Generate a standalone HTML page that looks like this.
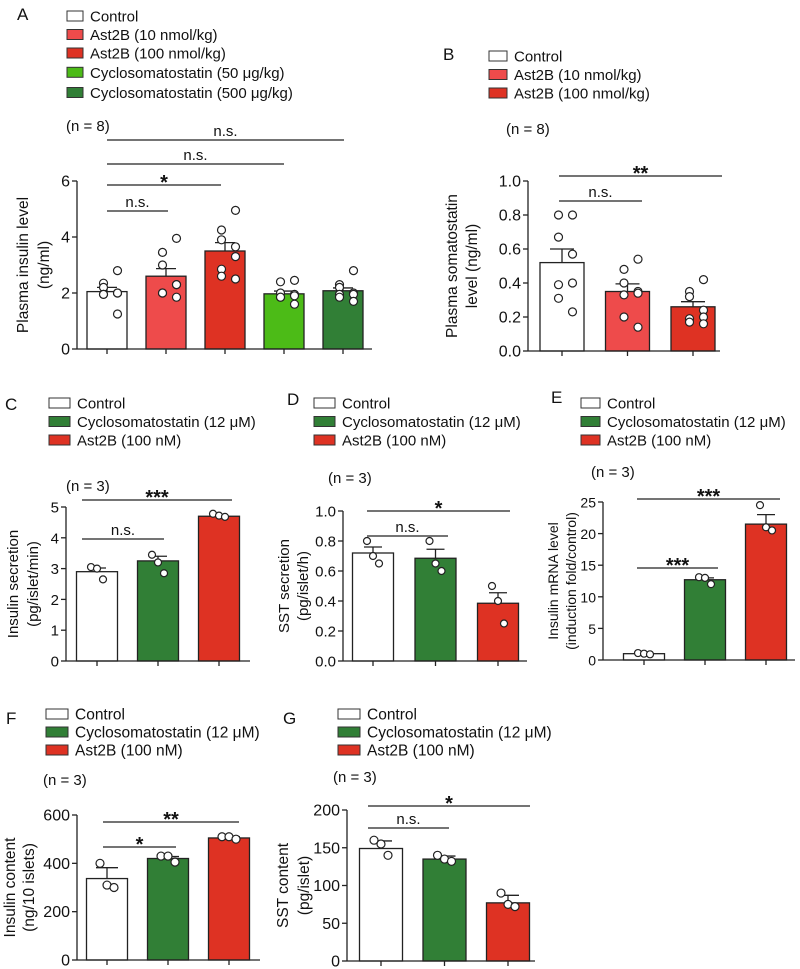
<!DOCTYPE html>
<html><head><meta charset="utf-8"><style>
html,body{margin:0;padding:0;background:#fff;}
svg{display:block;font-family:"Liberation Sans",Arial,sans-serif;}
</style></head><body>
<svg id="fig" width="800" height="969" viewBox="0 0 800 969">
<g id="static" fill="#111" font-size="15">
  <text x="17" y="20" font-size="17">A</text>
  <text x="443" y="60" font-size="17">B</text>
  <text x="5" y="410" font-size="17">C</text>
  <text x="287" y="405" font-size="17">D</text>
  <text x="551" y="403" font-size="17">E</text>
  <text x="6" y="724" font-size="17">F</text>
  <text x="283" y="724" font-size="17">G</text>
  <text x="66" y="131">(n = 8)</text>
  <text x="506" y="134">(n = 8)</text>
  <text x="66" y="491">(n = 3)</text>
  <text x="328" y="483">(n = 3)</text>
  <text x="591" y="477">(n = 3)</text>
  <text x="43" y="785">(n = 3)</text>
  <text x="333" y="782">(n = 3)</text>
</g>
<g id="dyn"></g>
</svg>
<script>
// ---------- DATA ----------
const aCategories = ["Control","Ast2B (10 nmol/kg)","Ast2B (100 nmol/kg)","Cyclosomatostatin (50 μg/kg)","Cyclosomatostatin (500 μg/kg)"];
const aMeans = [2.05, 2.6, 3.5, 1.97, 2.08];
const aErrors = [0.15, 0.27, 0.3, 0.1, 0.1];
const aPoints = [
  [2.8,2.35,2.2,2.0,2.0,1.95,1.95,1.25],
  [3.95,3.45,3.0,2.3,2.3,2.0,2.0,1.85],
  [4.95,4.25,3.9,3.65,3.3,2.85,2.6,2.5],
  [2.45,2.4,2.0,1.95,1.9,1.85,1.85,1.6],
  [2.8,2.3,2.2,2.0,1.95,1.95,1.85,1.7]];
const aTicks = [0,2,4,6];
const aTickLabels = ["0","2","4","6"];

const bCategories = ["Control","Ast2B (10 nmol/kg)","Ast2B (100 nmol/kg)"];
const bMeans = [0.52, 0.35, 0.26];
const bErrors = [0.08, 0.045, 0.03];
const bPoints = [
  [0.8,0.8,0.67,0.57,0.4,0.39,0.31,0.23],
  [0.54,0.48,0.4,0.35,0.34,0.33,0.2,0.14],
  [0.42,0.35,0.32,0.24,0.2,0.19,0.17,0.16]];
const bTicks = [0,0.2,0.4,0.6,0.8,1.0];
const bTickLabels = ["0.0","0.2","0.4","0.6","0.8","1.0"];

const inVitroCategories = ["Control","Cyclosomatostatin (12 μM)","Ast2B (100 nM)"];
const cMeans = [2.9, 3.25, 4.7];
const cErrors = [0.12, 0.15, 0.05];
const cPoints = [[3.05,3.0,2.65],[3.45,3.2,2.85],[4.78,4.72,4.68]];
const cTicks = [0,1,2,3,4,5];
const cTickLabels = ["0","1","2","3","4","5"];

const dMeans = [0.72, 0.685, 0.385];
const dErrors = [0.04, 0.06, 0.07];
const dPoints = [[0.8,0.7,0.65],[0.8,0.65,0.6],[0.5,0.4,0.25]];
const dTicks = [0,0.2,0.4,0.6,0.8,1.0];
const dTickLabels = ["0.0","0.2","0.4","0.6","0.8","1.0"];

const eMeans = [1.0, 12.7, 21.5];
const eErrors = [0.1, 0.3, 1.5];
const ePoints = [[1.1,1.0,0.9],[13.1,13.0,12.0],[24.5,21.0,20.5]];
const eTicks = [0,5,10,15,20,25];
const eTickLabels = ["0","5","10","15","20","25"];

const fMeans = [337, 420, 505];
const fErrors = [45, 8, 5];
const fPoints = [[400,310,300],[430,430,405],[510,510,500]];
const fTicks = [0,200,400,600];
const fTickLabels = ["0","200","400","600"];

const gMeans = [149, 135, 77];
const gErrors = [10, 4, 10];
const gPoints = [[160,155,140],[140,135,132],[90,75,72]];
const gTicks = [0,50,100,150,200];
const gTickLabels = ["0","50","100","150","200"];

// ---------- DRAWING ----------
const NS = "http://www.w3.org/2000/svg";
const root = document.getElementById("dyn");
function mk(tag, attrs, parent, txt){
  const e = document.createElementNS(NS, tag);
  for (const k in attrs) e.setAttribute(k, attrs[k]);
  if (txt !== undefined) e.textContent = txt;
  (parent||root).appendChild(e);
  return e;
}
const WHITE="#ffffff", LRED="#ee4b4b", RED="#de3223", LIME="#4cbb17", GREEN="#317f36";

function legend(id, x, y0, dy, items, colors, fs, bw){
  const g = mk("g", {}, root);
  
  
  let y = y0;
  items.forEach((t,i)=>{
    y += dy[i];
    const r = mk("rect", {x:x, y:y-5, width:bw, height:10, fill:colors[i], stroke:"#333", "stroke-width":1}, g);
    
    
    const tx = mk("text", {x:x+bw+7, y:y+5.5, "font-size":fs, fill:"#111"}, g, t);
    
    
  });
}

function panel(p){
  const g = mk("g", {}, root);
  
  
  const yS = v => p.y0 - (v / p.vmax) * (p.y0 - p.yTop);
  const xS = i => p.c0 + i * p.step;
  p.means.forEach((m,i)=>{
    const b = mk("rect", {x:xS(i)-p.bw/2, y:yS(m), width:p.bw, height:p.y0-yS(m), fill:p.colors[i], stroke:"#222", "stroke-width":1.3}, g);
    
    
    const top = yS(m + p.errs[i]);
    const e1 = mk("line", {x1:xS(i), x2:xS(i), y1:yS(m), y2:top, stroke:"#222","stroke-width":1.3}, g);
    
    
    const e2 = mk("line", {x1:xS(i)-p.cap, x2:xS(i)+p.cap, y1:top, y2:top, stroke:"#222","stroke-width":1.3}, g);
    
    
  });
  p.points.forEach((arr,i)=>{
    const n = arr.length;
    arr.forEach((v,k)=>{
      let off;
      if (n === 3) off = (k-1) * p.jit;
      else off = ((k % 4) - 1.5) * p.jit * (k%2 ? 1 : -1);
      const c = mk("circle", {cx:xS(i)+off, cy:yS(v), r:p.pr, fill:"#fff", stroke:"#222", "stroke-width":1.2}, g);
      
      
    });
  });
  const ya = mk("line", {x1:p.ax, x2:p.ax, y1:p.y0, y2:yS(p.ticks[p.ticks.length-1]), stroke:"#222","stroke-width":1.3}, g);
  
  
  const xa = mk("line", {x1:p.ax, x2:p.xr, y1:p.y0, y2:p.y0, stroke:"#222","stroke-width":1.3}, g);
  
  
  p.ticks.forEach((t,k)=>{
    const y = yS(t);
    const tk = mk("line", {x1:p.ax-5, x2:p.ax, y1:y, y2:y, stroke:"#222","stroke-width":1.3}, g);
    
    
    const tl = mk("text", {x:p.ax-7, y:y+5.5, "text-anchor":"end", "font-size":p.fs, fill:"#111"}, g, p.tickLabels[k]);
    
    
  });
  p.means.forEach((m,i)=>{
    const tk = mk("line", {x1:xS(i), x2:xS(i), y1:p.y0, y2:p.y0+5, stroke:"#222","stroke-width":1.3}, g);
    
    
  });
  const cy = (p.y0 + p.yTop)/2;
  p.titles.forEach((t,k)=>{
    const tx = mk("text", {x:p.tx[k], y:cy, "text-anchor":"middle", "font-size":p.tfs, fill:"#111", transform:"rotate(-90 "+p.tx[k]+" "+cy+")"}, g, t);
    
    
  });
  p.brackets.forEach(b=>{
    const l = mk("line", {x1:b[0], x2:b[1], y1:b[2], y2:b[2], stroke:"#222","stroke-width":1.3}, g);
    
    
    const star = b[3].indexOf("*") >= 0;
    const tx = mk("text", {x:(b[0]+b[1])/2, y:b[2] + (star ? 4 : -4), "text-anchor":"middle", "font-size": star ? 20 : 15, "font-weight": star ? "bold":"normal", fill:"#111"}, g, b[3]);
    
    
  });
}

legend("legend-a", 67, 16, [0,18.5,18.5,19.3,20.2], aCategories, [WHITE,LRED,RED,LIME,GREEN], 15, 16);
legend("legend-b", 489, 56, [0,18.5,18.5], bCategories, [WHITE,LRED,RED], 15, 18);
legend("legend-c", 49, 403, [0,18.5,18.5], inVitroCategories, [WHITE,GREEN,RED], 15, 21);
legend("legend-d", 314, 403, [0,18.5,18.5], inVitroCategories, [WHITE,GREEN,RED], 15, 21);
legend("legend-e", 581, 403, [0,18.5,18.5], inVitroCategories, [WHITE,GREEN,RED], 15, 19);
legend("legend-f", 46, 714, [0,18,18], inVitroCategories, [WHITE,GREEN,RED], 15.5, 22);
legend("legend-g", 338, 714, [0,18,18], inVitroCategories, [WHITE,GREEN,RED], 15.5, 22);

panel({name:"panel-a-chart", means:aMeans, errs:aErrors, points:aPoints, ticks:aTicks, tickLabels:aTickLabels,
  vmax:6, y0:349, yTop:181, ax:77, xr:372, c0:107, step:59, bw:40, cap:10, colors:[WHITE,LRED,RED,LIME,GREEN],
  pr:4, jit:7, fs:16, tfs:15.5, titles:["Plasma insulin level","(ng/ml)"], tx:[28,49],
  brackets:[[107,168,211,"n.s."],[107,221,185,"*"],[107,284,164,"n.s."],[107,344,140,"n.s."]]});
panel({name:"panel-b-chart", means:bMeans, errs:bErrors, points:bPoints, ticks:bTicks, tickLabels:bTickLabels,
  vmax:1, y0:351, yTop:181, ax:528, xr:720, c0:562, step:65.5, bw:44, cap:12, colors:[WHITE,LRED,RED],
  pr:4, jit:7, fs:16, tfs:15.5, titles:["Plasma somatostatin","level  (ng/ml)"], tx:[457,477],
  brackets:[[559,642,201,"n.s."],[559,722,176,"**"]]});
panel({name:"panel-c-chart", means:cMeans, errs:cErrors, points:cPoints, ticks:cTicks, tickLabels:cTickLabels,
  vmax:5, y0:661, yTop:507, ax:66, xr:250, c0:97, step:61, bw:41, cap:9, colors:[WHITE,GREEN,RED],
  pr:3.5, jit:6, fs:15, tfs:15, titles:["Insulin secretion","(pg/islet/min)"], tx:[18,38],
  brackets:[[82,164,539,"n.s."],[82,232,500,"***"]]});
panel({name:"panel-d-chart", means:dMeans, errs:dErrors, points:dPoints, ticks:dTicks, tickLabels:dTickLabels,
  vmax:1, y0:661, yTop:511, ax:343, xr:527, c0:373, step:62.5, bw:41, cap:9, colors:[WHITE,GREEN,RED],
  pr:3.5, jit:6, fs:15, tfs:15, titles:["SST secretion","(pg/islet/h)"], tx:[289,308],
  brackets:[[367,448,536,"n.s."],[367,510,511,"*"]]});
panel({name:"panel-e-chart", means:eMeans, errs:eErrors, points:ePoints, ticks:eTicks, tickLabels:eTickLabels,
  vmax:25, y0:660, yTop:502, ax:603, xr:795, c0:644, step:61, bw:41, cap:9, colors:[WHITE,GREEN,RED],
  pr:3.5, jit:6, fs:14, tfs:14, titles:["Insulin mRNA level","(induction fold/control)"], tx:[558,576],
  brackets:[[637,718,568,"***"],[637,780,499,"***"]]});
panel({name:"panel-f-chart", means:fMeans, errs:fErrors, points:fPoints, ticks:fTicks, tickLabels:fTickLabels,
  vmax:600, y0:960, yTop:815, ax:77, xr:260, c0:107, step:61, bw:41, cap:11, colors:[WHITE,GREEN,RED],
  pr:4, jit:7, fs:16, tfs:15.5, titles:["Insulin content","(ng/10 islets)"], tx:[15,34],
  brackets:[[103,176,847,"*"],[103,239,822,"**"]]});
panel({name:"panel-g-chart", means:gMeans, errs:gErrors, points:gPoints, ticks:gTicks, tickLabels:gTickLabels,
  vmax:200, y0:961, yTop:810, ax:347, xr:535, c0:381, step:63.5, bw:43, cap:11, colors:[WHITE,GREEN,RED],
  pr:4, jit:7, fs:16, tfs:15.5, titles:["SST content","(pg/islet)"], tx:[288,309],
  brackets:[[368,449,828,"n.s."],[368,530,806,"*"]]});
</script>
</body></html>
